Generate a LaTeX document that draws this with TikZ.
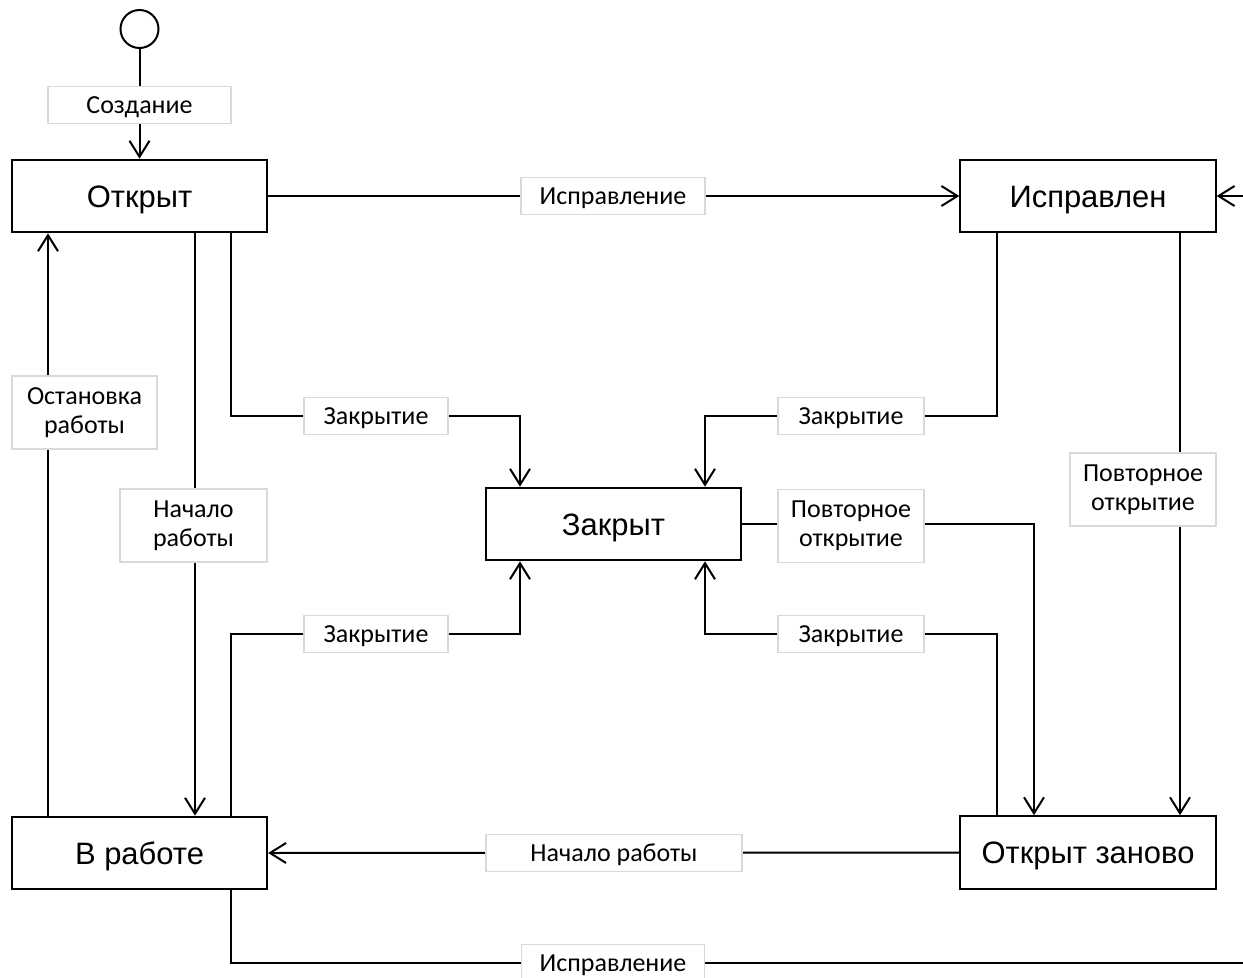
\documentclass[tikz,border=0pt]{standalone}
\usepackage{fontspec}
\setmainfont{Liberation Sans}
\newfontfamily\lblfont{Carlito}
\usetikzlibrary{arrows.meta,calc}
\definecolor{lblgray}{RGB}{217,217,217}
\begin{document}
\begin{tikzpicture}[x=0.75pt,y=-0.75pt,
  >={Straight Barb[length=12pt,width=15pt]},
  conn/.style={line width=1.5pt,->},
  statebox/.style={draw,line width=1.5pt,fill=white,minimum width=191.5pt,minimum height=54.5pt,inner sep=0pt,text height=16.6pt,text depth=0pt,font=\fontsize{23.2}{27}\selectfont},
  lbl/.style={draw=lblgray,line width=1.2pt,fill=white,inner sep=0pt,minimum height=28pt,align=center,font=\lblfont\fontsize{19.5}{21.5}\selectfont},
  lblone/.style={lbl,text height=12.6pt,text depth=0pt},
  initstate/.style={circle,draw,line width=1.5pt,minimum size=28.5pt,inner sep=0pt}]
\useasboundingbox (0,0) rectangle (1243,978);
\clip (0,0) rectangle (1243,978);

% states
\node[initstate] (init) at (139.5,29) {};
\node[statebox] (otk) at (139.5,196) {Открыт};
\node[statebox] (isp) at (1088,196) {Исправлен};
\node[statebox] (zak) at (613.5,524) {Закрыт};
\node[statebox] (vrab) at (139.5,853) {В работе};
\node[statebox] (zan) at (1088,852.5) {Открыт заново};

% bend points
\coordinate (b1) at (520,416);
\coordinate (b2) at (705,416);
\coordinate (b3) at (520,634);
\coordinate (b4) at (705,634);
\coordinate (b6) at (1300,963);

% connectors
\draw[conn] (init) -- (otk);
\draw[conn] (otk) -- (isp);
\draw[conn] ($(otk.south)+(91.5,0)$) |- (b1) -- (b1 |- zak.north);
\draw[conn] ($(otk.south)+(55.5,0)$) -- ($(vrab.north)+(55.5,0)$);
\draw[conn] ($(vrab.north)+(-91.5,0)$) -- ($(otk.south)+(-91.5,0)$);
\draw[conn] ($(isp.south)+(-91,0)$) |- (b2) -- (b2 |- zak.north);
\draw[conn] ($(isp.south)+(92,0)$) -- ($(zan.north)+(92,0)$);
\draw[conn] (zak.east) -| ($(zan.north)+(-54,0)$);
\draw[conn] ($(vrab.north)+(91.5,0)$) |- (b3) -- (b3 |- zak.south);
\draw[conn] ($(zan.north)+(-91,0)$) |- (b4) -- (b4 |- zak.south);
\draw[conn] (zan.west) -- (vrab.east);
\draw[conn] ($(vrab.south)+(91.5,0)$) |- (b6) |- (isp.east);

% labels
\node[lblone,minimum width=137pt] (lsoz) at (139.5,105) {Создание};
\node[lblone,minimum width=138pt] (lisp1) at (613,196) {Исправление};
\node[lblone,minimum width=108pt] (lz1) at (376,416) {Закрытие};
\node[lblone,minimum width=109.5pt] (lz2) at (851,416) {Закрытие};
\node[lbl,minimum width=110pt,minimum height=55pt] (lnr1) at (193.5,525.5) {Начало\\работы};
\node[lbl,minimum width=109pt,minimum height=55pt] (lost) at (84.5,412.5) {Остановка\\работы};
\node[lbl,minimum width=109.5pt,minimum height=55pt] (lpo1) at (1143,489.5) {Повторное\\открытие};
\node[lbl,minimum width=109.5pt,minimum height=55pt] (lpo2) at (851,526) {Повторное\\открытие};
\node[lblone,minimum width=108pt] (lz3) at (376,634) {Закрытие};
\node[lblone,minimum width=109.5pt] (lz4) at (851,634) {Закрытие};
\node[lblone,minimum width=192pt] (lnr2) at (614,853) {Начало работы};
\node[lblone,minimum width=137.5pt] (lisp2) at (613,963) {Исправление};
\end{tikzpicture}
\end{document}
